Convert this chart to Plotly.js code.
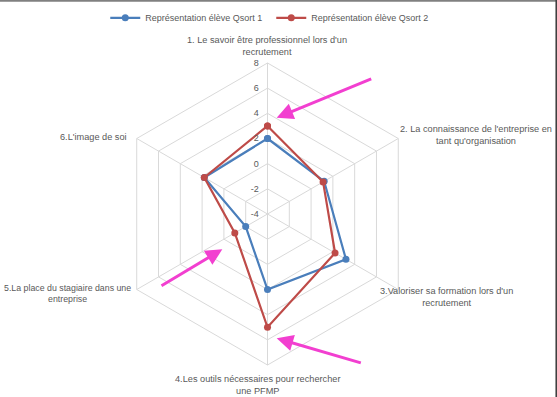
<!DOCTYPE html>
<html>
<head>
<meta charset="utf-8">
<script src="https://cdn.plot.ly/plotly-3.0.1.min.js"></script>
<style>html,body{margin:0;padding:0;background:#fff;}#chart{width:557px;height:397px;}</style>
</head>
<body>
<div id="chart"></div>
<script>
const categories = [
  "1. Le savoir être professionnel lors d'un recrutement",
  "2. La connaissance de l'entreprise en tant qu'organisation",
  "3.Valoriser sa formation lors d'un recrutement",
  "4.Les outils nécessaires pour rechercher une PFMP",
  "5.La place du stagiaire dans une entreprise",
  "6.L'image de soi"
];
const categoryLabels = [
  "1. Le savoir être professionnel lors d'un<br>recrutement",
  "2. La connaissance de l'entreprise en<br>tant qu'organisation",
  "3.Valoriser sa formation lors d'un<br>recrutement",
  "4.Les outils nécessaires pour rechercher<br>une PFMP",
  "5.La place du stagiaire dans une<br>entreprise",
  "6.L'image de soi"
];
const seriesNames = ["Représentation élève Qsort 1", "Représentation élève Qsort 2"];
const qsort1 = [2, 1.2, 3.2, 2, -2, 1.8];
const qsort2 = [3, 1.1, 2.2, 5, -1, 1.8];
const radialTicks = [-4, -2, 0, 2, 4, 6, 8];

const colors = ["#4a7ebb", "#be4b48"];
const close = a => a.concat([a[0]]);

const traces = [qsort1, qsort2].map((vals, i) => ({
  type: 'scatterpolar',
  mode: 'lines+markers',
  name: seriesNames[i],
  theta: close(categories),
  r: close(vals),
  line: {color: colors[i], width: 2.2},
  marker: {color: colors[i], size: 7, opacity: 1, line: {width: 0}},
  cliponaxis: true
}));

const labelPos = [
  [267, 46],
  [476, 135],
  [446, 297],
  [257, 385],
  [67, 293],
  [93, 137]
];
const W = 557, H = 397;
const FONT = 'Liberation Sans, Arial, sans-serif';
const annotations = categoryLabels.map((t, i) => ({
  xref: 'paper', yref: 'paper',
  x: labelPos[i][0] / W, y: 1 - labelPos[i][1] / H,
  xanchor: 'center', yanchor: 'middle', align: 'center',
  text: t, showarrow: false,
  font: {family: FONT, size: i === 4 ? 8.8 : 9.2, color: '#595959'}
}));

const arrows = [
  [276.7, 117.7, 372.7, 78.3],
  [222.3, 249.3, 160, 286.7],
  [276.7, 338.3, 362.3, 363.3]
];
arrows.forEach(a => annotations.push({
  xref: 'paper', yref: 'paper',
  x: a[0] / W, y: 1 - a[1] / H,
  ax: a[2] - a[0], ay: a[3] - a[1],
  axref: 'pixel', ayref: 'pixel',
  text: '', showarrow: true,
  arrowhead: 2, arrowsize: 1.1, arrowwidth: 3, arrowcolor: '#f23fd0'
}));

const layout = {
  width: W, height: H,
  margin: {l: 0, r: 0, t: 0, b: 0},
  paper_bgcolor: '#ffffff',
  showlegend: true,
  legend: {
    orientation: 'h', x: 0.487, xanchor: 'center', y: 0.955, yanchor: 'middle',
    font: {family: FONT, size: 9, color: '#595959'},
    itemwidth: 30, entrywidth: 121, entrywidthmode: 'pixels'
  },
  polar: {
    domain: {x: [116.5 / W, 418.5 / W], y: [32 / H, 334 / H]},
    gridshape: 'linear',
    bgcolor: 'rgba(0,0,0,0)',
    angularaxis: {
      rotation: 90, direction: 'clockwise', type: 'category',
      categoryarray: categories,
      showticklabels: false, ticks: '',
      gridcolor: '#d9d9d9', gridwidth: 1,
      linecolor: '#d9d9d9', linewidth: 1, showline: true
    },
    radialaxis: {
      range: [-4, 8], tickvals: radialTicks, ticktext: radialTicks.map(String),
      angle: 90, tickangle: 90, side: 'counterclockwise',
      showline: false, ticks: 'outside', ticklen: 5, tickcolor: 'rgba(0,0,0,0)',
      gridcolor: '#d9d9d9', gridwidth: 1,
      tickfont: {family: FONT, size: 9, color: '#595959'}
    }
  },
  annotations: annotations,
  shapes: [
    {type: 'line', xref: 'paper', yref: 'paper', x0: 0, x1: 1, y0: 0.998, y1: 0.998, line: {color: '#808080', width: 2}},
    {type: 'line', xref: 'paper', yref: 'paper', x0: 0.999, x1: 0.999, y0: 0, y1: 1, line: {color: '#404040', width: 2}}
  ]
};

Plotly.newPlot('chart', traces, layout, {displayModeBar: false});
</script>
</body>
</html>
